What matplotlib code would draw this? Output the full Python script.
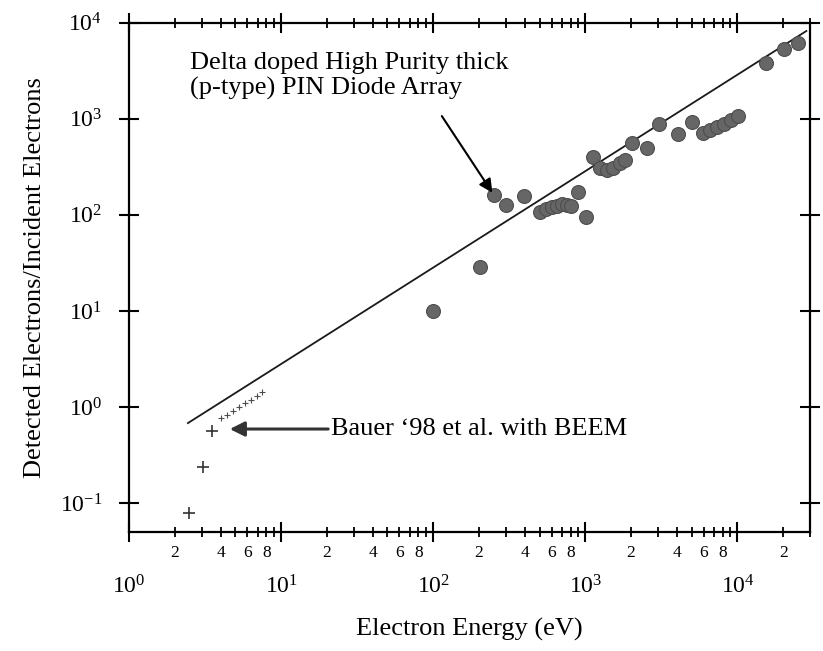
import matplotlib
matplotlib.use("Agg")
import matplotlib.pyplot as plt
from matplotlib.ticker import LogLocator, FixedLocator, FixedFormatter, NullFormatter

plt.rcParams["font.family"] = ["Liberation Serif", "DejaVu Serif"]
plt.rcParams["mathtext.fontset"] = "custom"
plt.rcParams["mathtext.rm"] = "Liberation Serif"

# delta doped PIN diode array measurements
diode_energy = [100, 204, 250, 302, 397, 500, 550, 600, 650, 700, 760, 800,
                900, 1016, 1130, 1255, 1396, 1530, 1700, 1825, 2030, 2560,
                3070, 4090, 5060, 5975, 6640, 7390, 8210, 9130, 10150,
                15300, 20100, 25200]
diode_gain = [10, 29, 160, 126, 157, 108, 114, 120, 125, 129, 127, 124,
              172, 95, 398, 306, 292, 306, 346, 372, 558, 494,
              881, 692, 922, 710, 762, 819, 880, 969, 1067,
              3800, 5320, 6130]

# ideal gain line
line_energy = [2.44, 28400]
line_gain = [0.68, 8200]

# Bauer '98 BEEM data
bauer_energy = [2.5, 3.05, 3.5]
bauer_gain = [0.079, 0.24, 0.56]
bauer_small_energy = [4.0, 4.4, 4.8, 5.3, 5.8, 6.3, 6.9, 7.5]
bauer_small_gain = [0.76, 0.83, 0.91, 1.0, 1.1, 1.19, 1.3, 1.42]

x_major = [1, 10, 100, 1000, 10000]
x_major_labels = [r"$\mathregular{10^{0}}$", r"$\mathregular{10^{1}}$",
                  r"$\mathregular{10^{2}}$", r"$\mathregular{10^{3}}$",
                  r"$\mathregular{10^{4}}$"]
y_major = [0.1, 1, 10, 100, 1000, 10000]
y_major_labels = [r"$\mathregular{10^{-1}}$", r"$\mathregular{10^{0}}$",
                  r"$\mathregular{10^{1}}$", r"$\mathregular{10^{2}}$",
                  r"$\mathregular{10^{3}}$", r"$\mathregular{10^{4}}$"]

fig = plt.figure(figsize=(8.23, 6.51), dpi=100)
ax = fig.add_axes([0.1567, 0.1828, 0.8275, 0.7823])
ax.set_xscale("log")
ax.set_yscale("log")
ax.set_xlim(1, 30000)
ax.set_ylim(0.05, 10000)

ax.plot(line_energy, line_gain, color="0.1", lw=1.3)
ax.plot(diode_energy, diode_gain, "o", color="0.4", ms=10, mec="0.3", mew=0.8)
ax.plot(bauer_energy, bauer_gain, "+", color="0.2", ms=8, mew=1.2)
ax.plot(bauer_small_energy, bauer_small_gain, "+", color="0.3", ms=4, mew=0.8)

ax.annotate("", xy=(4.6, 0.59), xytext=(20.4, 0.59),
            arrowprops=dict(arrowstyle="-|>", color="0.2", lw=2.2,
                            mutation_scale=22, shrinkA=0, shrinkB=0))
ax.text(21.3, 0.59, "Bauer \u201898 et al. with BEEM", fontsize=19,
        va="center", ha="left")

ax.annotate("", xy=(245, 170), xytext=(114, 1067),
            arrowprops=dict(arrowstyle="-|>", color="black", lw=1.5,
                            mutation_scale=20, shrinkA=0, shrinkB=0))
ax.text(2.52, 2790, "Delta doped High Purity thick\n(p-type) PIN Diode Array",
        fontsize=19, va="center", ha="left", linespacing=1.2)

ax.xaxis.set_major_locator(FixedLocator(x_major))
ax.xaxis.set_major_formatter(FixedFormatter(x_major_labels))
ax.xaxis.set_minor_locator(LogLocator(base=10, subs=range(2, 10), numticks=20))


def minor_fmt(v, pos):
    lead = round(v / 10 ** int(f"{v:e}".split("e")[1]))
    return str(lead) if lead in (2, 4, 6, 8) else ""


ax.xaxis.set_minor_formatter(plt.FuncFormatter(minor_fmt))

ax.yaxis.set_major_locator(FixedLocator(y_major))
ax.yaxis.set_major_formatter(FixedFormatter(y_major_labels))
ax.yaxis.set_minor_locator(FixedLocator([]))
ax.yaxis.set_minor_formatter(NullFormatter())

ax.tick_params(which="major", direction="inout", length=14.4, width=1.5,
               top=True, right=True, labelsize=17)
ax.tick_params(which="minor", direction="inout", length=7.2, width=1.3,
               top=True, right=True, labelsize=12.5)
ax.tick_params(axis="x", which="major", pad=24)
ax.tick_params(axis="x", which="minor", pad=6)
ax.tick_params(axis="y", which="major", pad=12)

for sp in ax.spines.values():
    sp.set_linewidth(1.6)

ax.set_xlabel("Electron Energy (eV)", fontsize=19, labelpad=14)
ax.set_ylabel("Detected Electrons/Incident Electrons", fontsize=19, labelpad=10)

fig.savefig("out.png", dpi=100)
